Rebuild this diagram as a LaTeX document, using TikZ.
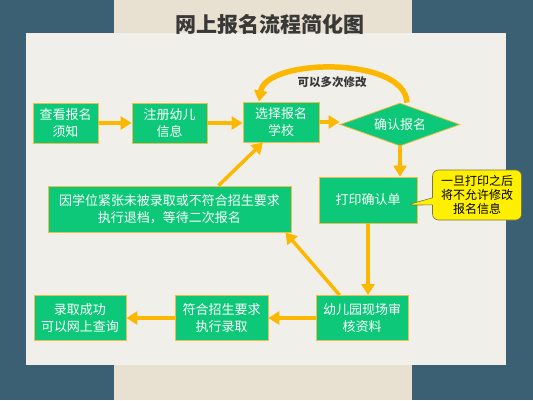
\documentclass[tikz,border=0pt]{standalone}
\usepackage{fontspec}
\newfontfamily\cjk{Noto Sans CJK SC}
\usetikzlibrary{arrows.meta, shapes.geometric, shapes.callouts}
\definecolor{hintergrund}{RGB}{59,96,116}
\definecolor{papier}{RGB}{232,225,210}
\definecolor{blatt}{RGB}{241,239,233}
\definecolor{boxgruen}{RGB}{12,200,120}
\definecolor{boxrand}{RGB}{240,190,70}
\definecolor{pfeilfarbe}{RGB}{252,184,0}
\definecolor{hinweisgelb}{RGB}{255,240,0}

\begin{document}
\begin{tikzpicture}[x=1pt, y=-1pt,
		box/.style={draw=boxrand, line width=0.8pt, fill=boxgruen, text=white, align=center, inner sep=0pt,
			font=\cjk\fontsize{13}{17}\selectfont},
		pfeil/.style={draw=pfeilfarbe, line width=3.5pt, -{Triangle[length=11pt, width=13pt]}},
		>=Triangle]
		% Hintergrund
		\useasboundingbox[fill=hintergrund] (0,0) rectangle (533,400);
		\fill[papier] (114,0) rectangle (412,400);
		\fill[blatt] (26,33) rectangle (506,365);
		% Titel
		\node (titel) at (270,24) {\cjk\bfseries\fontsize{21}{24}\selectfont\color{black!78}网上报名流程简化图};
		% Kaesten
		\node[box, minimum width=65pt, minimum height=40pt] (info) at (65.5,123) {查看报名\\须知};
		\node[box, minimum width=75pt, minimum height=40pt] (regist) at (169.5,123) {注册幼儿\\信息};
		\node[box, minimum width=76pt, minimum height=40pt] (schule) at (281,122) {选择报名\\学校};
		\node[box, shape=diamond, aspect=3, minimum width=120pt, minimum height=43pt] (bestaet) at (400,124.5) {确认报名};
		\node[box, minimum width=98pt, minimum height=46pt] (druck) at (368,200) {打印确认单};
		\node[box, minimum width=243pt, minimum height=46pt] (absage) at (169.5,209) {因学位紧张未被录取或不符合招生要求\\执行退档，等待二次报名};
		\node[box, minimum width=92pt, minimum height=45pt] (pruef) at (362,318) {幼儿园现场审\\核资料};
		\node[box, minimum width=93pt, minimum height=45pt] (zusage) at (221.5,318) {符合招生要求\\执行录取};
		\node[box, minimum width=92pt, minimum height=45pt] (erfolg) at (80,318) {录取成功\\可以网上查询};
		% Hinweis
		\node[rectangle callout, rounded corners=6pt, fill=hinweisgelb, draw=black!60!yellow, line width=0.6pt,
			minimum width=89pt, minimum height=50pt, inner sep=0pt, align=center,
			font=\cjk\fontsize{12}{14}\selectfont, callout absolute pointer={(407,205)}] (hinweis) at (477,195)
			{一旦打印之后\\将不允许修改\\报名信息};
		% Pfeile
		\draw[pfeil] (info) -- (regist);
		\draw[pfeil] (regist.east) -- (regist.east -| schule.west);
		\draw[pfeil] (schule.east) -- (schule.east -| bestaet.west);
		\draw[pfeil] (bestaet.south) -- (druck.north -| bestaet.south);
		\draw[pfeil] (druck.south) -- (druck.south |- pruef.north);
		\draw[pfeil] ([xshift=24pt]pruef.north west) -- ([xshift=-6pt]absage.south east);
		\draw[pfeil] ([xshift=49pt]absage.north) -- ([xshift=-18pt]schule.south);
		\draw[pfeil] (pruef.west) -- (pruef.west -| zusage.east);
		\draw[pfeil] (zusage.west) -- (zusage.west -| erfolg.east);
		% Mehrfach aendern
		\draw[pfeil, line width=5.5pt] ([xshift=7pt]bestaet.north) .. controls (405,56) and (266,58) .. ([xshift=-22pt]schule.north);
		\node[font=\cjk\bfseries\fontsize{11.5}{13}\selectfont, text=black!78] (mehrfach) at (332,82) {可以多次修改};
	\end{tikzpicture}
\end{document}
